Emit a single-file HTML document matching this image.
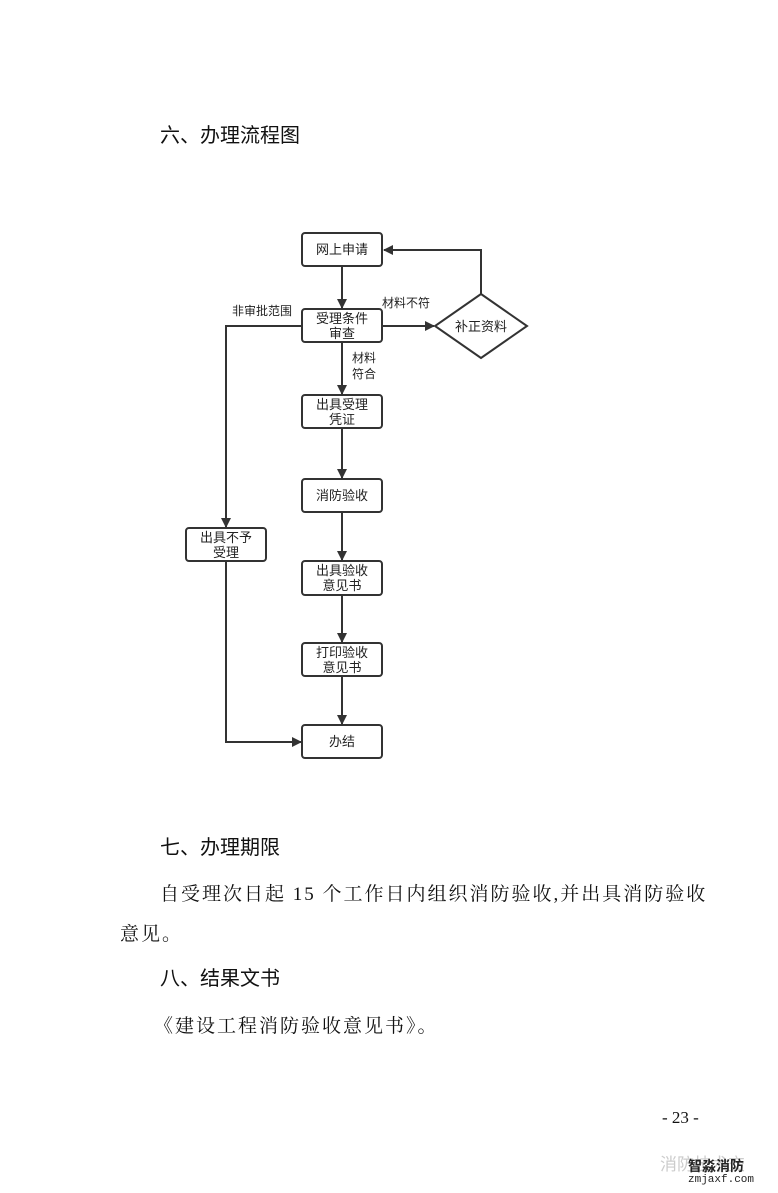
<!DOCTYPE html>
<html><head><meta charset="utf-8"><style>
body{margin:0;background:#fff;width:778px;height:1193px;overflow:hidden;position:relative;font-family:"Liberation Serif","Noto Serif CJK SC",serif;color:#111}
.t{position:absolute;white-space:nowrap}
.h{font-family:"Liberation Sans","Noto Sans CJK SC",sans-serif;font-size:20px}
.p{font-size:19px;letter-spacing:2px}
</style></head><body>
<div class="t h" style="left:160px;top:119px">六、办理流程图</div>
<svg style="position:absolute;left:0;top:0" width="778" height="1193" font-family="Liberation Sans,Noto Sans CJK SC,sans-serif" font-size="13" fill="#222">
<defs><marker id="a" markerWidth="10" markerHeight="10" refX="9" refY="5" orient="auto" markerUnits="userSpaceOnUse"><path d="M0,0 L10,5 L0,10z" fill="#333"/></marker></defs>
<g stroke="#333" stroke-width="2" fill="none">
<rect x="302" y="233" width="80" height="33" rx="3"/>
<rect x="302" y="309" width="80" height="33" rx="3"/>
<rect x="302" y="395" width="80" height="33" rx="3"/>
<rect x="302" y="479" width="80" height="33" rx="3"/>
<rect x="302" y="561" width="80" height="34" rx="3"/>
<rect x="302" y="643" width="80" height="33" rx="3"/>
<rect x="302" y="725" width="80" height="33" rx="3"/>
<rect x="186" y="528" width="80" height="33" rx="3"/>
<path d="M481,294 L527,326 L481,358 L435,326z"/>
<path d="M342,266 V308" marker-end="url(#a)"/>
<path d="M342,342 V394" marker-end="url(#a)"/>
<path d="M342,428 V478" marker-end="url(#a)"/>
<path d="M342,512 V560" marker-end="url(#a)"/>
<path d="M342,595 V642" marker-end="url(#a)"/>
<path d="M342,676 V724" marker-end="url(#a)"/>
<path d="M382,326 H434" marker-end="url(#a)"/>
<path d="M481,294 V250 H384" marker-end="url(#a)"/>
<path d="M302,326 H226 V527" marker-end="url(#a)"/>
<path d="M226,561 V742 H301" marker-end="url(#a)"/>
</g>
<g text-anchor="middle" stroke="none">
<text x="342" y="254">网上申请</text>
<text x="342" y="323">受理条件</text><text x="342" y="338">审查</text>
<text x="342" y="409">出具受理</text><text x="342" y="424">凭证</text>
<text x="342" y="500">消防验收</text>
<text x="342" y="575">出具验收</text><text x="342" y="590">意见书</text>
<text x="342" y="657">打印验收</text><text x="342" y="672">意见书</text>
<text x="342" y="746">办结</text>
<text x="226" y="542">出具不予</text><text x="226" y="557">受理</text>
<text x="481" y="331">补正资料</text>
<text x="406" y="307" font-size="12">材料不符</text>
<text x="262" y="315" font-size="12">非审批范围</text>
<text x="364" y="362" font-size="12">材料</text><text x="364" y="378" font-size="12">符合</text>
</g>
</svg>
<div class="t h" style="left:160px;top:831px">七、办理期限</div>
<div class="t p" style="left:160px;top:879px">自受理次日起 15 个工作日内组织消防验收,并出具消防验收</div>
<div class="t p" style="left:120px;top:919px">意见。</div>
<div class="t h" style="left:160px;top:962px">八、结果文书</div>
<div class="t p" style="left:154px;top:1011px">《建设工程消防验收意见书》。</div>
<div class="t" style="left:662px;top:1108px;font-size:17px">- 23 -</div>
<div class="t" style="left:660px;top:1150px;font-size:17px;color:#ccc;font-family:'Liberation Sans','Noto Sans CJK SC',sans-serif">消防技术交</div>
<div class="t" style="left:688px;top:1156px;font-size:14px;font-weight:bold;color:#222;font-family:'Liberation Sans','Noto Sans CJK SC',sans-serif">智淼消防</div>
<div class="t" style="left:688px;top:1174px;font-size:11px;color:#222;font-family:'Liberation Mono',monospace">zmjaxf.com</div>
</body></html>
